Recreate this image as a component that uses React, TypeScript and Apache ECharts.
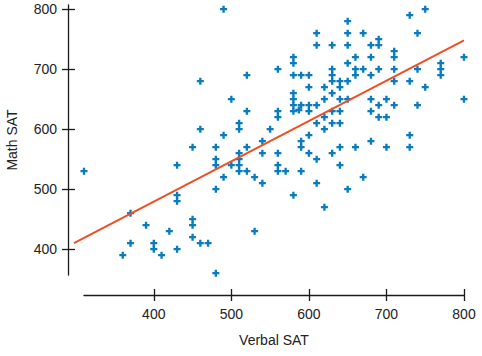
import React, { useEffect, useRef } from "react";
import * as echarts from "echarts";

// Verbal SAT (x) and Math SAT (y) pairs
const verbal: number[] = [
  490, 460, 520, 560, 610, 610, 580, 580, 580, 590, 600, 600, 620, 500, 580, 580, 580, 590, 587, 600,
  610, 580, 600, 620, 620, 610, 520, 560, 560, 510, 510, 460, 550, 490, 600, 620,
  750, 730, 650, 650, 670, 740, 630, 650, 680, 690, 690, 710, 710, 660, 680, 650, 630, 660, 670, 690,
  710, 740, 770, 770, 770, 800, 660, 680, 630, 630, 640, 640, 650, 710, 730, 750, 630, 640, 650, 680,
  700, 800, 690, 710, 740, 630, 640, 680, 690, 700, 630, 640, 730,
  310, 430, 450, 430, 430, 370, 450, 450, 390, 420, 450, 460, 370, 400, 400, 430, 360, 410,
  480, 520, 540, 540, 510, 560, 590, 590, 600, 610, 480, 480, 500, 510, 510, 510, 520, 560, 560, 570,
  590, 490, 530, 540, 610, 480, 580, 620, 470, 530, 480,
  640, 660, 680, 700, 730, 630, 640, 670, 650,
];
const math: number[] = [
  800, 680, 690, 700, 760, 740, 720, 710, 690, 690, 690, 670, 670, 650, 660, 650, 640, 640, 632, 640,
  640, 630, 630, 650, 620, 610, 630, 630, 620, 610, 600, 600, 600, 590, 590, 600,
  800, 790, 780, 760, 760, 760, 740, 740, 740, 740, 750, 730, 720, 720, 720, 710, 700, 700, 700, 700,
  700, 700, 710, 700, 690, 720, 690, 690, 690, 680, 680, 670, 680, 680, 680, 670, 660, 650, 650, 650,
  650, 650, 640, 640, 640, 630, 630, 630, 620, 620, 610, 610, 590,
  530, 540, 570, 490, 480, 460, 450, 440, 440, 430, 420, 410, 410, 410, 400, 400, 390, 390,
  570, 570, 580, 560, 560, 560, 580, 570, 560, 550, 550, 540, 540, 550, 540, 530, 530, 540, 530, 530,
  530, 520, 520, 510, 510, 500, 490, 470, 410, 430, 360,
  570, 570, 580, 570, 570, 560, 540, 520, 500,
];

// Least-squares line endpoints as drawn in the reference
const fitX: number[] = [297, 800];
const fitY: number[] = [410, 748];

const tickValues: number[] = [400, 500, 600, 700, 800];

const X_MIN = 310;
const X_MAX = 800;
const Y_MIN = 357;
const Y_MAX = 807;

const FONT = "'Liberation Sans', Arial, sans-serif";
const FS = 14;
const TEXT = "#222";
const AXIS = "#1a1a1a";

export default function App() {
  const ref = useRef<HTMLDivElement>(null);

  useEffect(() => {
    if (!ref.current) return;
    const chart = echarts.init(ref.current, null, { renderer: "svg" });

    const points = verbal.map((v, i) => [v, math[i]]);
    const fit = fitX.map((v, i) => [v, fitY[i]]);

    // plot geometry
    const gLeft = 84;
    const gWidth = 380;
    const pxPerUnit = gWidth / (X_MAX - X_MIN);

    const xBase = {
      type: "value" as const,
      min: X_MIN,
      max: X_MAX,
      position: "bottom" as const,
      offset: 20,
      gridIndex: 0,
      splitLine: { show: false },
    };
    const yBase = {
      type: "value" as const,
      min: Y_MIN,
      max: Y_MAX,
      position: "left" as const,
      offset: 16,
      gridIndex: 0,
      splitLine: { show: false },
    };

    chart.setOption({
      animation: false,
      grid: [
        { left: gLeft, top: 5, width: gWidth, height: 270, containLabel: false, outerBoundsMode: "none" },
        {
          left: gLeft - (X_MIN - fitX[0]) * pxPerUnit,
          top: 5,
          width: (X_MAX - fitX[0]) * pxPerUnit,
          height: 270,
          containLabel: false,
          outerBoundsMode: "none",
        },
      ],
      xAxis: [
        {
          ...xBase,
          name: "Verbal SAT",
          nameLocation: "middle",
          nameGap: 38,
          nameMoveOverlap: false,
          nameTextStyle: { fontFamily: FONT, fontSize: FS, color: TEXT },
          axisLine: { show: true, lineStyle: { color: AXIS, width: 1.3 } },
          axisTick: { show: true, inside: false, length: 6, customValues: tickValues, lineStyle: { color: AXIS, width: 1.3 } },
          axisLabel: { show: true, margin: 12, customValues: tickValues, fontFamily: FONT, fontSize: FS, color: TEXT },
        },
        {
          ...xBase,
          axisLine: { show: false },
          axisTick: { show: true, inside: true, length: 6, customValues: tickValues, lineStyle: { color: AXIS, width: 1.3 } },
          axisLabel: { show: false },
        },
        { type: "value", gridIndex: 1, min: fitX[0], max: X_MAX, show: false },
      ],
      yAxis: [
        {
          ...yBase,
          name: "Math SAT",
          nameLocation: "middle",
          nameGap: 49,
          nameMoveOverlap: false,
          nameTextStyle: { fontFamily: FONT, fontSize: FS, color: TEXT },
          axisLine: { show: true, lineStyle: { color: AXIS, width: 1.3 } },
          axisTick: { show: true, inside: false, length: 6, customValues: tickValues, lineStyle: { color: AXIS, width: 1.3 } },
          axisLabel: { show: true, margin: 11, customValues: tickValues, fontFamily: FONT, fontSize: FS, color: TEXT },
        },
        {
          ...yBase,
          axisLine: { show: false },
          axisTick: { show: true, inside: true, length: 7, customValues: tickValues, lineStyle: { color: AXIS, width: 1.3 } },
          axisLabel: { show: false },
        },
        { type: "value", gridIndex: 1, min: Y_MIN, max: Y_MAX, show: false },
      ],
      series: [
        {
          type: "scatter",
          xAxisIndex: 0,
          yAxisIndex: 0,
          data: points,
          symbol: "path://M1,0H2V1H3V2H2V3H1V2H0V1H1Z",
          symbolSize: 7,
          itemStyle: { color: "#0a7bbd", opacity: 1 },
          silent: true,
          clip: false,
          z: 2,
        },
        {
          type: "line",
          xAxisIndex: 2,
          yAxisIndex: 2,
          data: fit,
          showSymbol: false,
          clip: false,
          lineStyle: { color: "#f04e23", width: 2 },
          silent: true,
          z: 3,
        },
      ],
    });

    return () => chart.dispose();
  }, []);

  return (
    <div
      ref={ref}
      style={{ position: "fixed", left: 0, top: 0, width: 482, height: 356, background: "#fff" }}
    />
  );
}
